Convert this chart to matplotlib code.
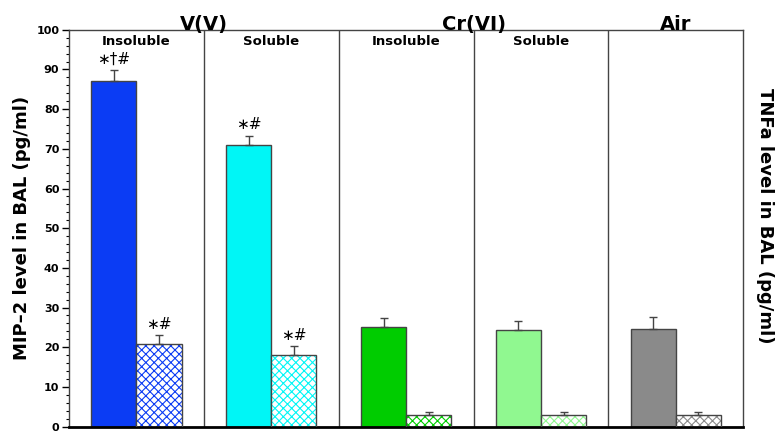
import matplotlib
matplotlib.use("Agg")
import matplotlib.pyplot as plt
from matplotlib.ticker import MultipleLocator

# data
groups = ["V(V) Insoluble", "V(V) Soluble", "Cr(VI) Insoluble", "Cr(VI) Soluble", "Air"]
sub_labels = ["Insoluble", "Soluble", "Insoluble", "Soluble", ""]
mip2 = [87.0, 71.0, 25.2, 24.3, 24.7]
mip2_err = [2.8, 2.2, 2.2, 2.2, 3.0]
tnfa = [20.7, 18.0, 2.8, 2.9, 2.9]
tnfa_err = [2.4, 2.2, 0.8, 0.7, 0.7]
mip2_marks = ["\u2217\u2020#", "\u2217#", "", "", ""]
tnfa_marks = ["\u2217#", "\u2217#", "", "", ""]
colors = ["#0b3cf4", "#00f6f6", "#00cc00", "#90f890", "#8a8a8a"]
metal_labels = ["V(V)", "Cr(VI)", "Air"]
metal_pos = [0.5, 2.5, 4.0]

EDGE = "#444444"
W = 0.335
plt.rcParams["hatch.linewidth"] = 0.8

fig = plt.figure(figsize=(7.79, 4.32), dpi=100)
ax = fig.add_axes([0.0886, 0.0125, 0.8655, 0.9185])

x = list(range(len(groups)))
for i in x:
    ax.bar(i - W / 2, mip2[i], W, color=colors[i], edgecolor=EDGE, linewidth=1.0, zorder=2)
    ax.errorbar(i - W / 2, mip2[i], yerr=[[0], [mip2_err[i]]], fmt="none",
                ecolor=EDGE, elinewidth=1.0, capsize=3, zorder=3)
    # hatched bar: hatch in series colour, outline in grey
    ax.bar(i + W / 2, tnfa[i], W, color="white", edgecolor=colors[i],
           hatch="xxxx", linewidth=0, zorder=2)
    ax.bar(i + W / 2, tnfa[i], W, fill=False, edgecolor=EDGE, linewidth=1.0, zorder=3)
    ax.errorbar(i + W / 2, tnfa[i], yerr=[[0], [tnfa_err[i]]], fmt="none",
                ecolor=EDGE, elinewidth=1.0, capsize=3, zorder=3)
    if mip2_marks[i]:
        ax.text(i - W / 2, mip2[i] + mip2_err[i] + 1.0, mip2_marks[i], ha="center",
                va="bottom", fontsize=11)
    if tnfa_marks[i]:
        ax.text(i + W / 2, tnfa[i] + tnfa_err[i] + 0.8, tnfa_marks[i], ha="center",
                va="bottom", fontsize=11)
    if sub_labels[i]:
        ax.text(i, 98.8, sub_labels[i], ha="center", va="top", fontsize=9.5,
                fontweight="bold")

for d in [0.5, 1.5, 2.5, 3.5]:
    ax.axvline(d, color=EDGE, linewidth=1.0, zorder=1)

for lab, p in zip(metal_labels, metal_pos):
    ax.text(p, 99.0, lab, ha="center", va="bottom", fontsize=14, fontweight="bold")

ax.set_xlim(-0.5, 4.5)
ax.set_ylim(0, 100)
ax.set_xticks([])
ax.yaxis.set_major_locator(MultipleLocator(10))
ax.yaxis.set_minor_locator(MultipleLocator(2))
ax.tick_params(axis="y", which="major", length=5, width=1, labelsize=8, pad=2)
ax.tick_params(axis="y", which="minor", length=2.5, width=0.8)
for t in ax.get_yticklabels():
    t.set_fontweight("bold")
for s in ["top", "right", "left"]:
    ax.spines[s].set_color(EDGE)
    ax.spines[s].set_linewidth(1.0)
ax.spines["bottom"].set_linewidth(2.0)

ax.set_ylabel("MIP\u20132 level in BAL (pg/ml)", fontsize=13, fontweight="bold", labelpad=4)
fig.text(0.982, 0.5, "TNFa level in BAL (pg/ml)", rotation=-90, ha="center", va="center",
         fontsize=13, fontweight="bold")

fig.savefig("out.png", dpi=100)
